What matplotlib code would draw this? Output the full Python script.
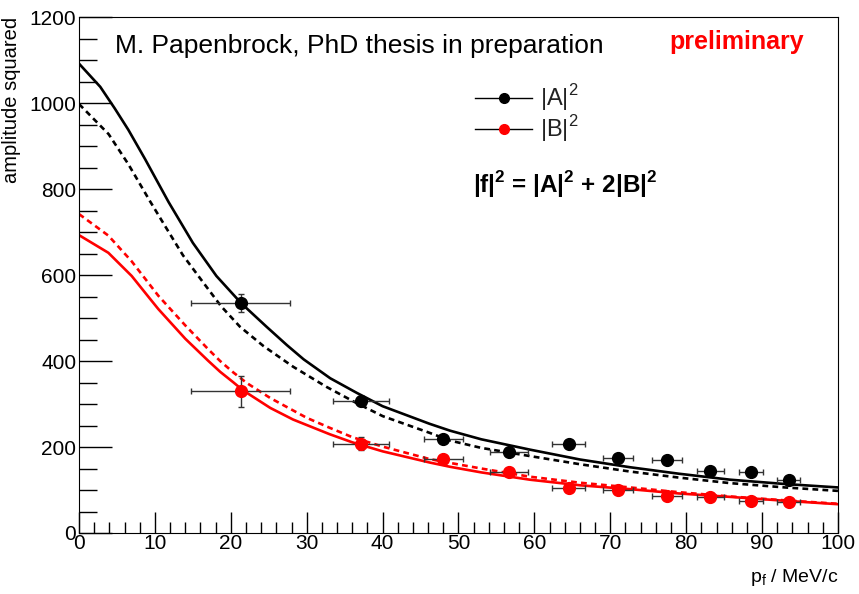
import matplotlib
matplotlib.use('Agg')
import matplotlib.pyplot as plt
from matplotlib.lines import Line2D
from matplotlib.ticker import MultipleLocator

# measured points
p_f = [21.3, 37.2, 48.0, 56.7, 64.5, 71.0, 77.5, 83.2, 88.5, 93.5]
p_err = [6.5, 3.7, 2.6, 2.5, 2.2, 2.0, 2.0, 1.8, 1.6, 1.5]
A2 = [535, 307, 219, 189, 208, 174, 170, 145, 142, 124]
A2_err = [20, 12, 9, 8, 8, 7, 7, 6, 6, 6]
B2 = [330, 208, 171, 143, 104, 99, 87, 84, 75, 72]
B2_err = [36, 15, 9, 8, 7, 6, 6, 6, 5, 5]

# model curves
A2_solid_x = [0, 2.8, 4.7, 6.5, 8.7, 11.8, 15, 18.1, 21.4, 24.7, 27.4, 29.6, 33.1, 36.6,
              40, 46.2, 48.9, 53, 59.4, 66, 72.6, 79, 85.8, 93, 100]
A2_solid = [1092, 1038, 988, 938, 870, 770, 675, 598, 534, 480, 437, 404, 360, 326,
            295, 254, 238, 218, 194, 171, 153, 138, 124, 114, 106]
A2_dash_x = [0, 3.9, 6.5, 9.35, 11.55, 13.7, 16.4, 18.7, 21.2, 24.3, 28.2, 32.6, 36.6,
             40, 46.2, 48.9, 53, 59.4, 66, 72.6, 79, 85.8, 93, 100]
A2_dash = [998, 928, 858, 772, 708, 646, 582, 528, 480, 435, 387, 340, 302,
           272, 233, 215, 198, 179, 160, 143, 129, 116, 106, 98]
B2_solid_x = [0, 3.86, 6.94, 9.35, 10.45, 14, 17, 18.6, 20.3, 21.6, 25.2, 28.2, 33, 36,
              40, 46.2, 48.9, 53, 59.4, 66, 72.6, 79, 85.8, 93, 100]
B2_solid = [693, 652, 598, 545, 521, 452, 401, 375, 351, 332, 291, 264, 230, 211,
            190, 164, 154, 141, 124, 111, 102, 92, 84, 75, 67]
B2_dash_x = [0, 3.86, 6.94, 10.45, 14, 17, 18.6, 20.3, 22.1, 25.2, 30, 33, 36,
             40, 46.2, 48.9, 53, 59.4, 66, 72.6, 79, 85.8, 93, 100]
B2_dash = [742, 692, 632, 552, 483, 428, 400, 374, 349, 314, 268, 245, 223,
           201, 172, 163, 150, 131, 117, 106, 95, 85, 76, 68]

plt.rcParams['font.family'] = ['Liberation Sans', 'DejaVu Sans']
plt.rcParams['mathtext.fontset'] = 'custom'
plt.rcParams['mathtext.rm'] = 'Liberation Sans'
plt.rcParams['mathtext.bf'] = 'Liberation Sans:bold'

fig = plt.figure(figsize=(8.59, 5.94), dpi=100)
ax = fig.add_axes([0.092, 0.1027, 0.8835, 0.8683])

ax.plot(A2_solid_x, A2_solid, color='black', lw=1.9)
ax.plot(A2_dash_x, A2_dash, color='black', lw=1.9, ls=(0, (2.2, 1.6)))
ax.plot(B2_solid_x, B2_solid, color='red', lw=1.9)
ax.plot(B2_dash_x, B2_dash, color='red', lw=1.9, ls=(0, (2.2, 1.6)))

ax.errorbar(p_f, A2, xerr=p_err, yerr=A2_err, fmt='o', color='black', ms=8.5,
            ecolor='#333333', elinewidth=1, capsize=2.5, zorder=5)
ax.errorbar(p_f, B2, xerr=p_err, yerr=B2_err, fmt='o', color='red', ms=8.5,
            ecolor='#333333', elinewidth=1, capsize=2.5, zorder=5)

ax.set_xlim(0, 100)
ax.set_ylim(0, 1200)
ax.xaxis.set_major_locator(MultipleLocator(10))
ax.xaxis.set_minor_locator(MultipleLocator(2))
ax.yaxis.set_major_locator(MultipleLocator(200))
ax.yaxis.set_minor_locator(MultipleLocator(50))
ax.tick_params(which='both', direction='in', labelsize=15, top=False, right=False)
ax.tick_params(axis='y', which='major', length=24, width=1)
ax.tick_params(axis='y', which='minor', length=13, width=1)
ax.tick_params(axis='x', which='major', length=15, width=1)
ax.tick_params(axis='x', which='minor', length=8, width=1)
ax.tick_params(axis='x', pad=1)
ax.tick_params(axis='y', pad=2)

ax.set_ylabel('amplitude squared', fontsize=14.5)
ax.yaxis.set_label_coords(-0.077, 1.0)
ax.yaxis.label.set_horizontalalignment('right')
ax.set_xlabel(r'p$_{\rm f}$ / MeV/c', fontsize=14)
ax.xaxis.set_label_coords(1.0, -0.065)
ax.xaxis.label.set_horizontalalignment('right')

ax.text(0.047, 0.945, 'M. Papenbrock, PhD thesis in preparation', transform=ax.transAxes,
        fontsize=19, va='center', ha='left')
ax.text(0.955, 0.952, 'preliminary', transform=ax.transAxes, color='red',
        fontsize=18, fontweight='bold', va='center', ha='right')

handles = [Line2D([], [], color='black', lw=1, marker='o', ms=7),
           Line2D([], [], color='black', lw=1, marker='o', ms=7, mfc='red', mec='red')]
ax.legend(handles, [r'|A|$^2$', r'|B|$^2$'], loc='upper left', bbox_to_anchor=(0.494, 0.915),
          frameon=False, fontsize=17, handlelength=2.4, handletextpad=0.35,
          labelspacing=0.0, labelcolor='#222222')

ax.text(0.519, 0.675, r'|f|$^\mathbf{2}$ = |A|$^\mathbf{2}$ + 2|B|$^\mathbf{2}$',
        transform=ax.transAxes, fontsize=17.5, fontweight='bold', va='center', ha='left')

fig.savefig('out.png', dpi=100)
